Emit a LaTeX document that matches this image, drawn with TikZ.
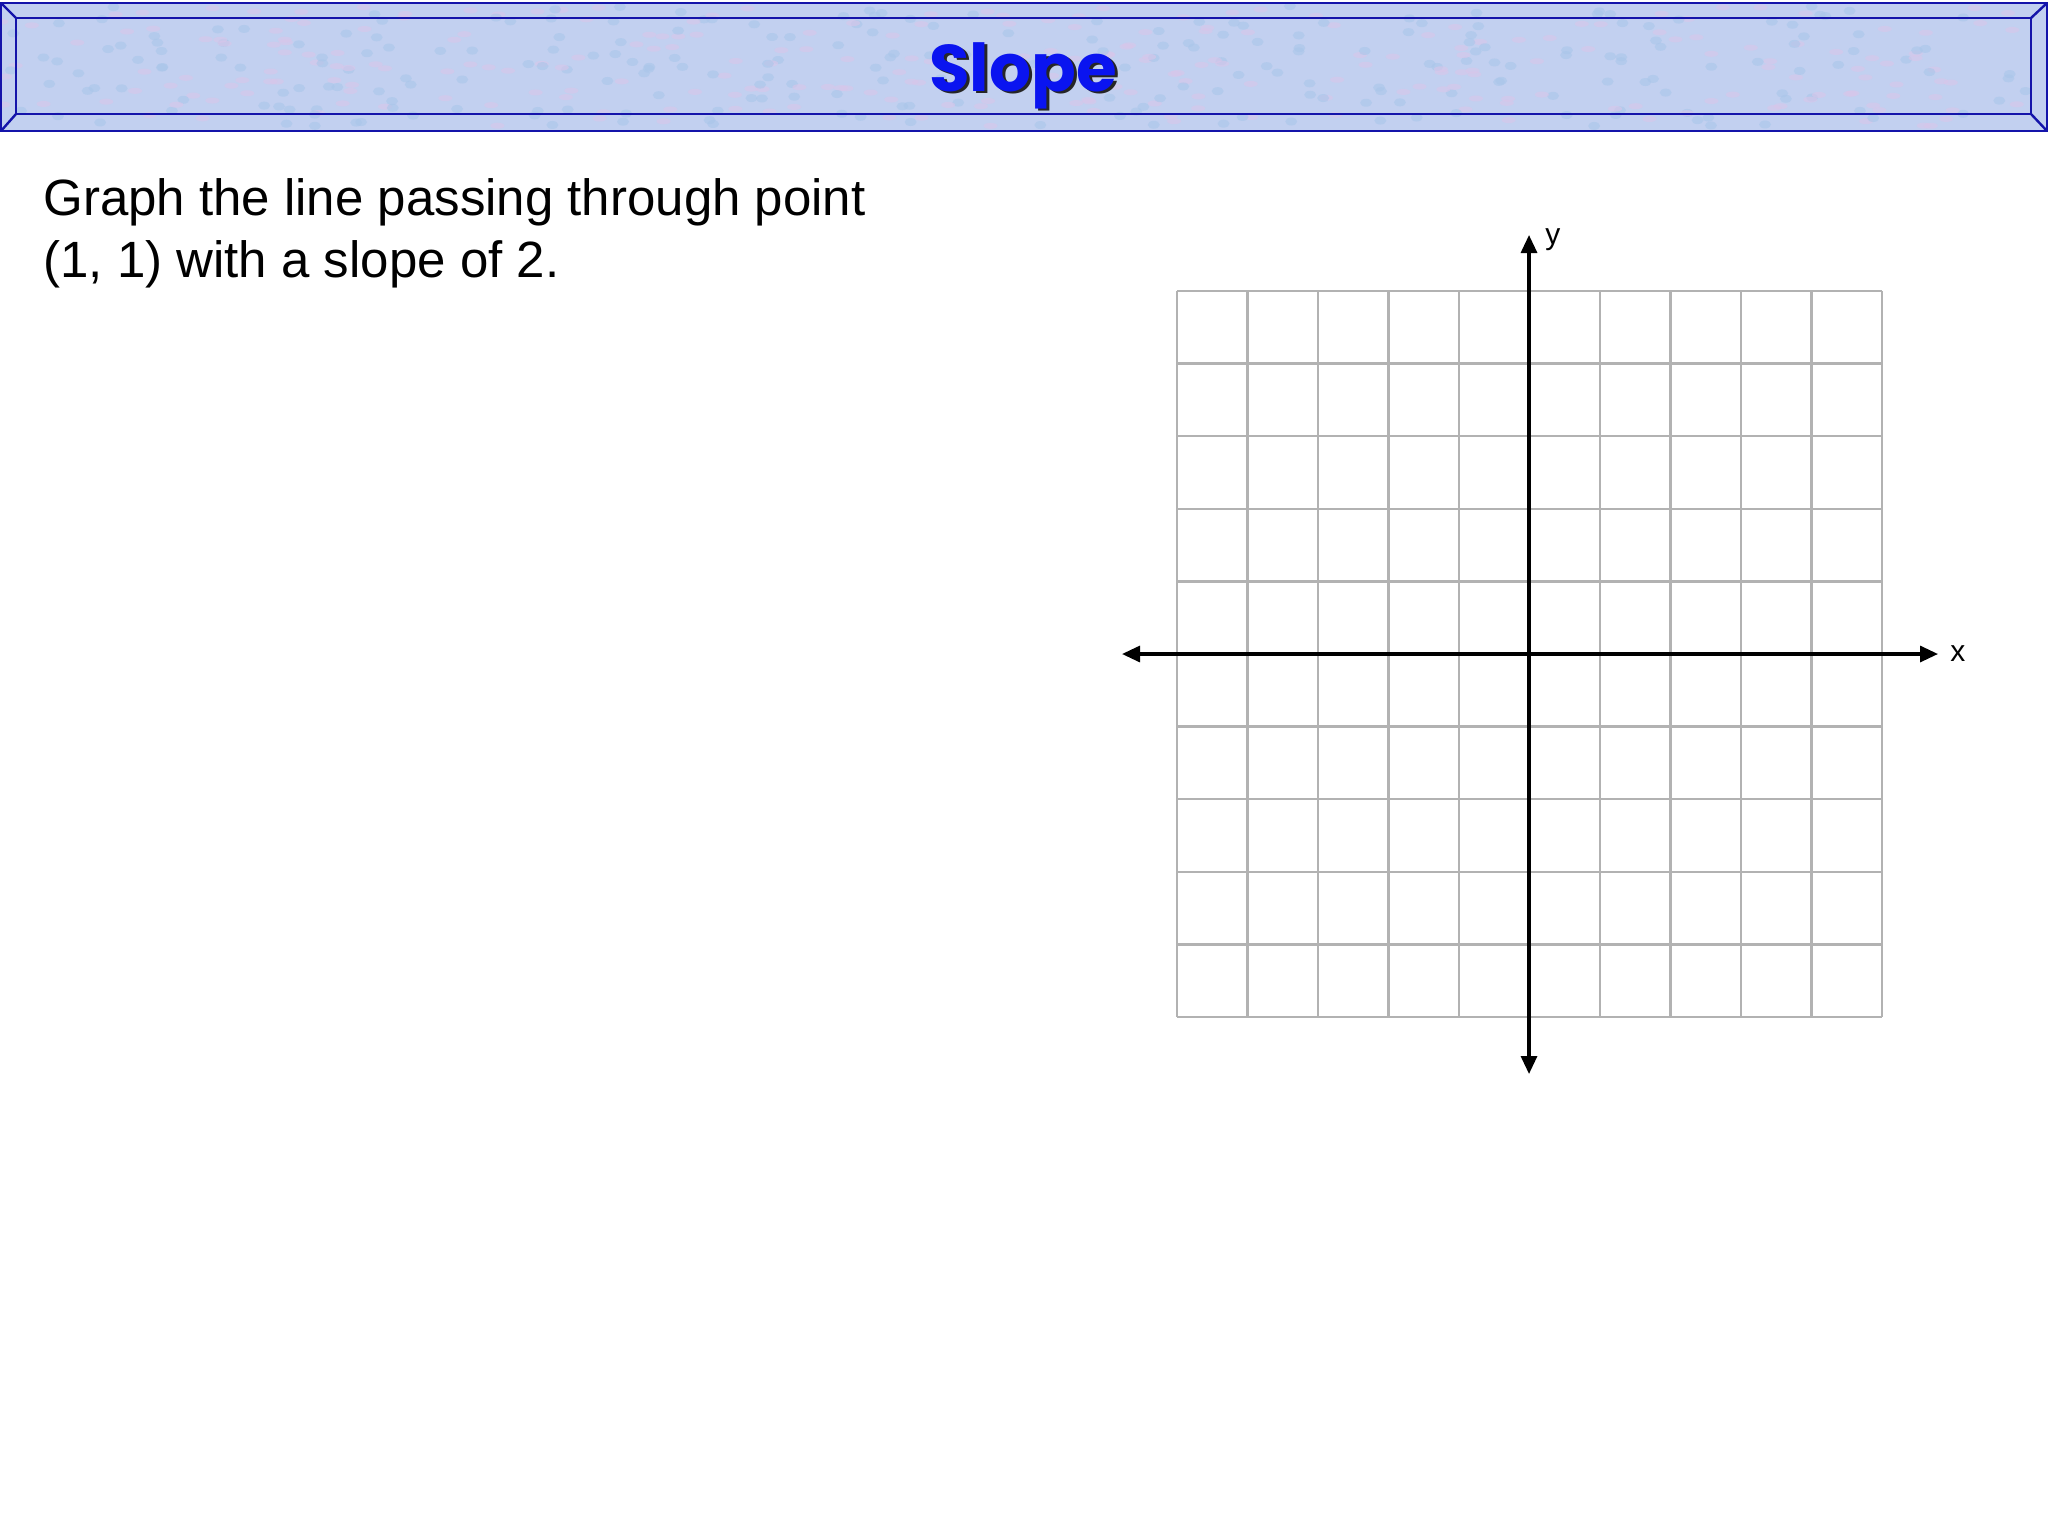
\documentclass[tikz,border=0pt]{standalone}
\usepackage{fontspec}
\setmainfont{Liberation Sans}
\newfontfamily\titlefont{Poppins}
\usetikzlibrary{arrows.meta,positioning}
\definecolor{barfill}{RGB}{194,208,240}
\definecolor{barspeckA}{RGB}{216,198,234}
\definecolor{barspeckB}{RGB}{170,198,234}
\definecolor{barline}{RGB}{20,20,170}
\definecolor{titleblue}{RGB}{10,20,240}
\definecolor{gridgray}{RGB}{178,178,178}

\begin{document}
\begin{tikzpicture}[x=0.5pt,y=-0.5pt,
bar/.style={
% the frame:
draw=barline,
line width=1.2pt
},
gridline/.style={
draw=gridgray,
line width=1.2pt
},
axis/.style={
draw=black,
line width=1.6pt,
{Triangle[length=9pt,width=8pt]}-{Triangle[length=9pt,width=8pt]}
},
slopetitle/.style={
font=\titlefont\bfseries\fontsize{33}{36}\selectfont,
inner sep=0pt
},
prompt/.style={
font=\fontsize{25.5}{31}\selectfont,
align=left,
inner sep=0pt
},
axislabel/.style={
font=\fontsize{15}{18}\selectfont,
inner sep=0pt
}
]
\useasboundingbox[fill=white] (0,0) rectangle (2048,1536);

% title bar
\fill[barfill] (1,3) rectangle (2047,131);
\pgfmathsetseed{7}
\foreach \k in {1,...,260} {
\fill[barspeckA,opacity=0.6] ({1+2030*rnd},{6+120*rnd}) ellipse (7 and 3);
\fill[barspeckB,opacity=0.6] ({1+2030*rnd},{6+120*rnd}) ellipse (6 and 4);
}
\draw[bar] (1,3) rectangle (2047,131);
\draw[bar] (16,18) rectangle (2031,114);
\draw[bar] (1,3) -- (16,18) (2047,3) -- (2031,18) (1,131) -- (16,114) (2047,131) -- (2031,114);
\node (shadow) [slopetitle,text=black!85,anchor=base] at (1026,94) {Slope};
\node (heading) [slopetitle,text=titleblue,anchor=base] at (1023,91) {Slope};

% the task
\node (task) [prompt,anchor=base west] at (43,277) {Graph the line passing through point\\(1, 1) with a slope of 2.};

% grid
\foreach \i in {0,...,10}
\draw[gridline] ({1177+70.5*\i},291) -- ({1177+70.5*\i},1017);
\foreach \j in {0,...,10}
\draw[gridline] (1177,{291+72.6*\j}) -- (1882,{291+72.6*\j});

% axes
\coordinate (xleft) at (1122,654);
\coordinate (xright) at (1938,654);
\coordinate (ytop) at (1529,235);
\coordinate (ybot) at (1529,1074);
\draw[axis] (xleft) -- (xright);
\draw[axis] (ybot) -- (ytop);
\node (xlabel) [axislabel,right=6pt of xright] {x};
\node (ylabel) [axislabel,right=8pt of ytop,yshift=-2.5pt] {y};
\end{tikzpicture}
\end{document}
